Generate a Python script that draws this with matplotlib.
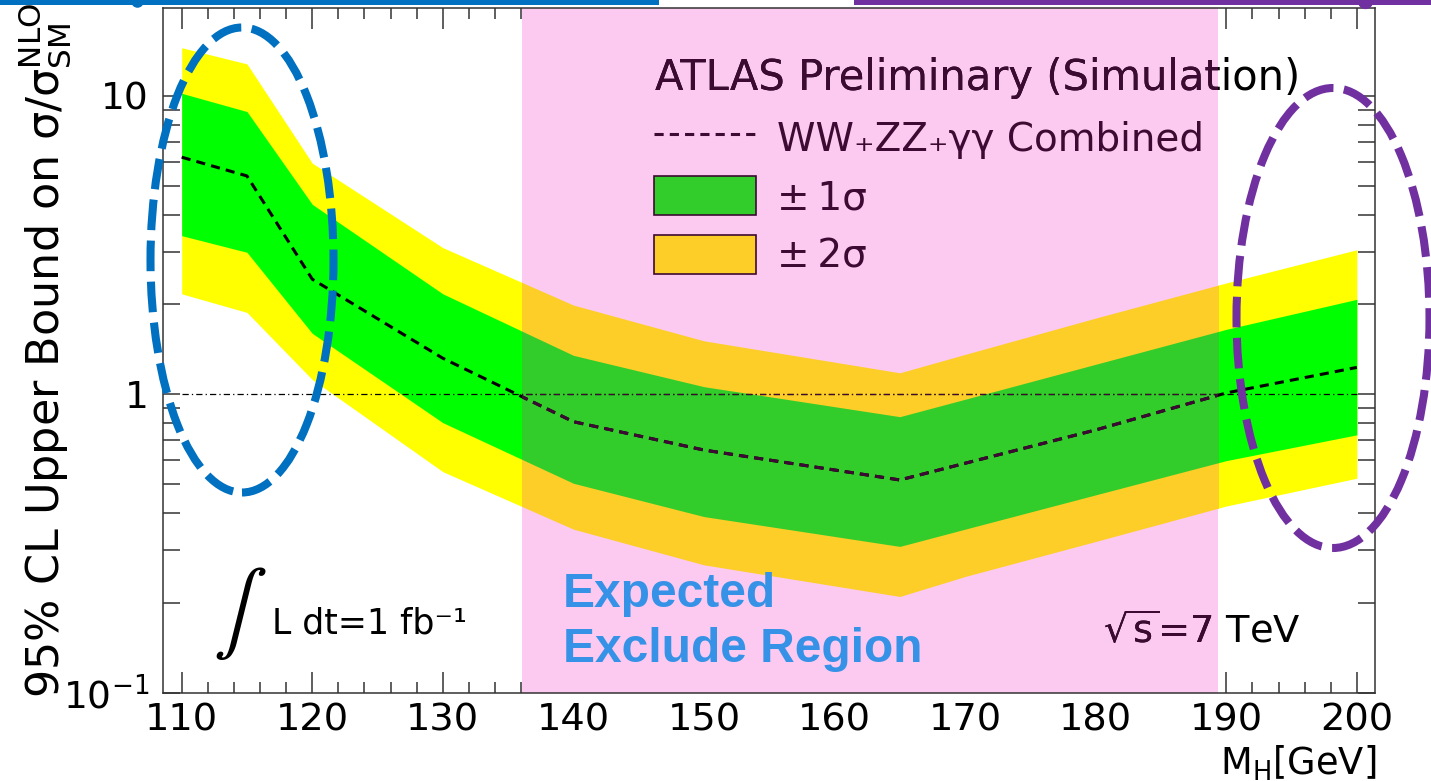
import numpy as np
import matplotlib
matplotlib.use("Agg")
import matplotlib.pyplot as plt
from matplotlib.lines import Line2D
from matplotlib.patches import Patch, Ellipse
from matplotlib.ticker import MultipleLocator, LogLocator, NullFormatter

plt.rcParams['font.family'] = ['DejaVu Sans']
plt.rcParams['mathtext.fontset'] = 'dejavusans'

# expected 95% CL upper limit on sigma/sigma_SM vs Higgs mass (1 fb-1, 7 TeV)
mh      = [110, 115, 120, 130, 140, 150, 165, 170, 180, 190, 200]
exp_med = [6.23, 5.39, 2.43, 1.32, 0.809, 0.650, 0.516, 0.587, 0.759, 1.01, 1.23]
exp_p1  = [10.2, 8.86, 4.33, 2.17, 1.35, 1.06, 0.841, 0.962, 1.26, 1.65, 2.08]
exp_m1  = [3.40, 2.99, 1.60, 0.803, 0.503, 0.389, 0.309, 0.353, 0.460, 0.599, 0.731]
exp_p2  = [14.5, 12.8, 5.95, 3.10, 1.99, 1.51, 1.18, 1.36, 1.80, 2.36, 3.05]
exp_m2  = [2.17, 1.88, 1.12, 0.550, 0.353, 0.268, 0.210, 0.245, 0.321, 0.422, 0.523]
excl_lo, excl_hi = 136.08, 189.33          # where the median crosses 1
xticks = list(range(110, 201, 10))
ytick_vals = [0.1, 1, 10]
ytick_labels = [r'$\mathregular{10^{-1}}$', '1', '10']
leg_labels = ['WW₊ZZ₊γγ Combined', '±\u20091σ', '±\u20092σ']

YELLOW, GREEN = '#FFFF00', '#00FF00'
ORANGE, DGREEN = '#FDCE28', '#33CD2B'
PINK = '#FCCAF0'
DARK = '#3c0a32'
BLUE, PURPLE = '#0070C0', '#7030A0'

W, H = 1431, 781
def fx(px): return px / W
def fy(py): return 1 - py / H

fig = plt.figure(figsize=(W / 100, H / 100), dpi=100)
ax = fig.add_axes([fx(163), fy(692.6), fx(1375) - fx(163), fy(8) - fy(692.6)])
ax.set_yscale('log')
ax.set_xlim(108.57, 201.39)
ax.set_ylim(0.1, 19.7)

# bands outside the shaded region
ax.fill_between(mh, exp_m2, exp_p2, color=YELLOW, lw=0, zorder=1)
ax.fill_between(mh, exp_m1, exp_p1, color=GREEN, lw=0, zorder=1.1)
span = ax.axvspan(excl_lo, excl_hi, color=PINK, lw=0, zorder=2)
# same bands, recoloured inside the shaded region
b2 = ax.fill_between(mh, exp_m2, exp_p2, color=ORANGE, lw=0, zorder=2.1)
b1 = ax.fill_between(mh, exp_m1, exp_p1, color=DGREEN, lw=0, zorder=2.2)
b2.set_clip_path(span); b1.set_clip_path(span)

ref = ax.hlines(1, mh[0], mh[-1], colors='black', linestyles=(0, (5, 2.5, 1, 2.5)), lw=0.9, zorder=3)
ref2 = ax.hlines(1, mh[0], mh[-1], colors=DARK, linestyles=(0, (5, 2.5, 1, 2.5)), lw=0.9, zorder=3.1)
ref2.set_clip_path(span)
ax.plot(mh, exp_med, color='black', ls=(0, (3, 2)), lw=2.2, zorder=4)
med2, = ax.plot(mh, exp_med, color=DARK, ls=(0, (3, 2)), lw=2.2, zorder=4.1)
med2.set_clip_path(span)

# axes styling
ax.set_xticks(xticks)
ax.xaxis.set_minor_locator(MultipleLocator(2))
ax.set_yticks(ytick_vals, ytick_labels)
ax.yaxis.set_minor_locator(LogLocator(base=10, subs=np.arange(2, 10), numticks=20))
ax.yaxis.set_minor_formatter(NullFormatter())
ax.tick_params(axis='x', which='major', length=15, labelsize=27.6, pad=7)
ax.tick_params(axis='x', which='minor', length=8)
ax.tick_params(axis='y', which='both', length=12)
ax.tick_params(axis='y', which='major', labelsize=27, pad=10)
ax.tick_params(which='both', direction='in', top=True, right=True, width=1.1, color='#333333')
for s in ax.spines.values():
    s.set_linewidth(1.1); s.set_color('#333333'); s.set_zorder(6)

fig.text(fx(45), fy(3), r'95% CL Upper Bound on σ/σ$_{\mathregular{SM}}^{\mathregular{NLO}}$',
         rotation=90, ha='center', va='top', fontsize=32)
fig.text(fx(1376), fy(775), r'M$_{\mathregular{H}}$[GeV]', ha='right', va='baseline', fontsize=26.5)

# legend
handles = [Line2D([], [], color=DARK, ls=(0, (3, 2)), lw=2.2),
           Patch(fc=DGREEN, ec=DARK, lw=1.2),
           Patch(fc=ORANGE, ec=DARK, lw=1.2)]
ax.legend(handles, leg_labels, loc='upper left', bbox_to_anchor=(fx(654), fy(118)),
          bbox_transform=fig.transFigure, frameon=False, fontsize=28, labelcolor=DARK,
          handlelength=2.62, handleheight=1.16, handletextpad=0.54, labelspacing=0.46,
          borderpad=0, borderaxespad=0)

def two_tone(x, y, s, **kw):
    fig.text(x, y, s, color='black', **kw)
    t = fig.text(x, y, s, color=DARK, **kw)
    t.set_clip_path(span)

two_tone(fx(655), fy(90), 'ATLAS Preliminary (Simulation)', va='baseline', fontsize=30)
two_tone(fx(1103), fy(642), r'$\sqrt{\mathregular{s}}$=7 TeV', va='baseline', fontsize=27.6)
fig.text(fx(240), fy(613), r'$\int$', ha='center', va='center', fontsize=58, math_fontfamily='stix')
fig.text(fx(272), fy(633), 'L dt=1 fb⁻¹', va='baseline', fontsize=25)

for line, yb in (('Expected', 607), ('Exclude Region', 662)):
    fig.text(fx(563), fy(yb), line, va='baseline', fontsize=34.5, fontweight='bold',
             family='Liberation Sans', color='#3592E6')

# highlight ellipses and slide connector lines
fig.add_artist(Ellipse((fx(242), fy(260)), 183 / W, 465 / H, fill=False, ec=BLUE,
                       lw=5.8, ls=(0, (3.8, 1.3))))
fig.add_artist(Ellipse((fx(1333), fy(318)), 193 / W, 460 / H, fill=False, ec=PURPLE,
                       lw=5.8, ls=(0, (3.8, 1.3))))
fig.add_artist(Line2D([0, fx(656)], [fy(2), fy(2)], color=BLUE, lw=3.6))
fig.add_artist(Line2D([fx(137)], [fy(1)], color=BLUE, marker='o', ms=8, ls='none'))
fig.add_artist(Line2D([fx(856), 1], [fy(2), fy(2)], color=PURPLE, lw=3.6))
fig.add_artist(Line2D([fx(1365)], [fy(1)], color=PURPLE, marker='o', ms=10, ls='none'))

fig.savefig('out.png', dpi=100)
